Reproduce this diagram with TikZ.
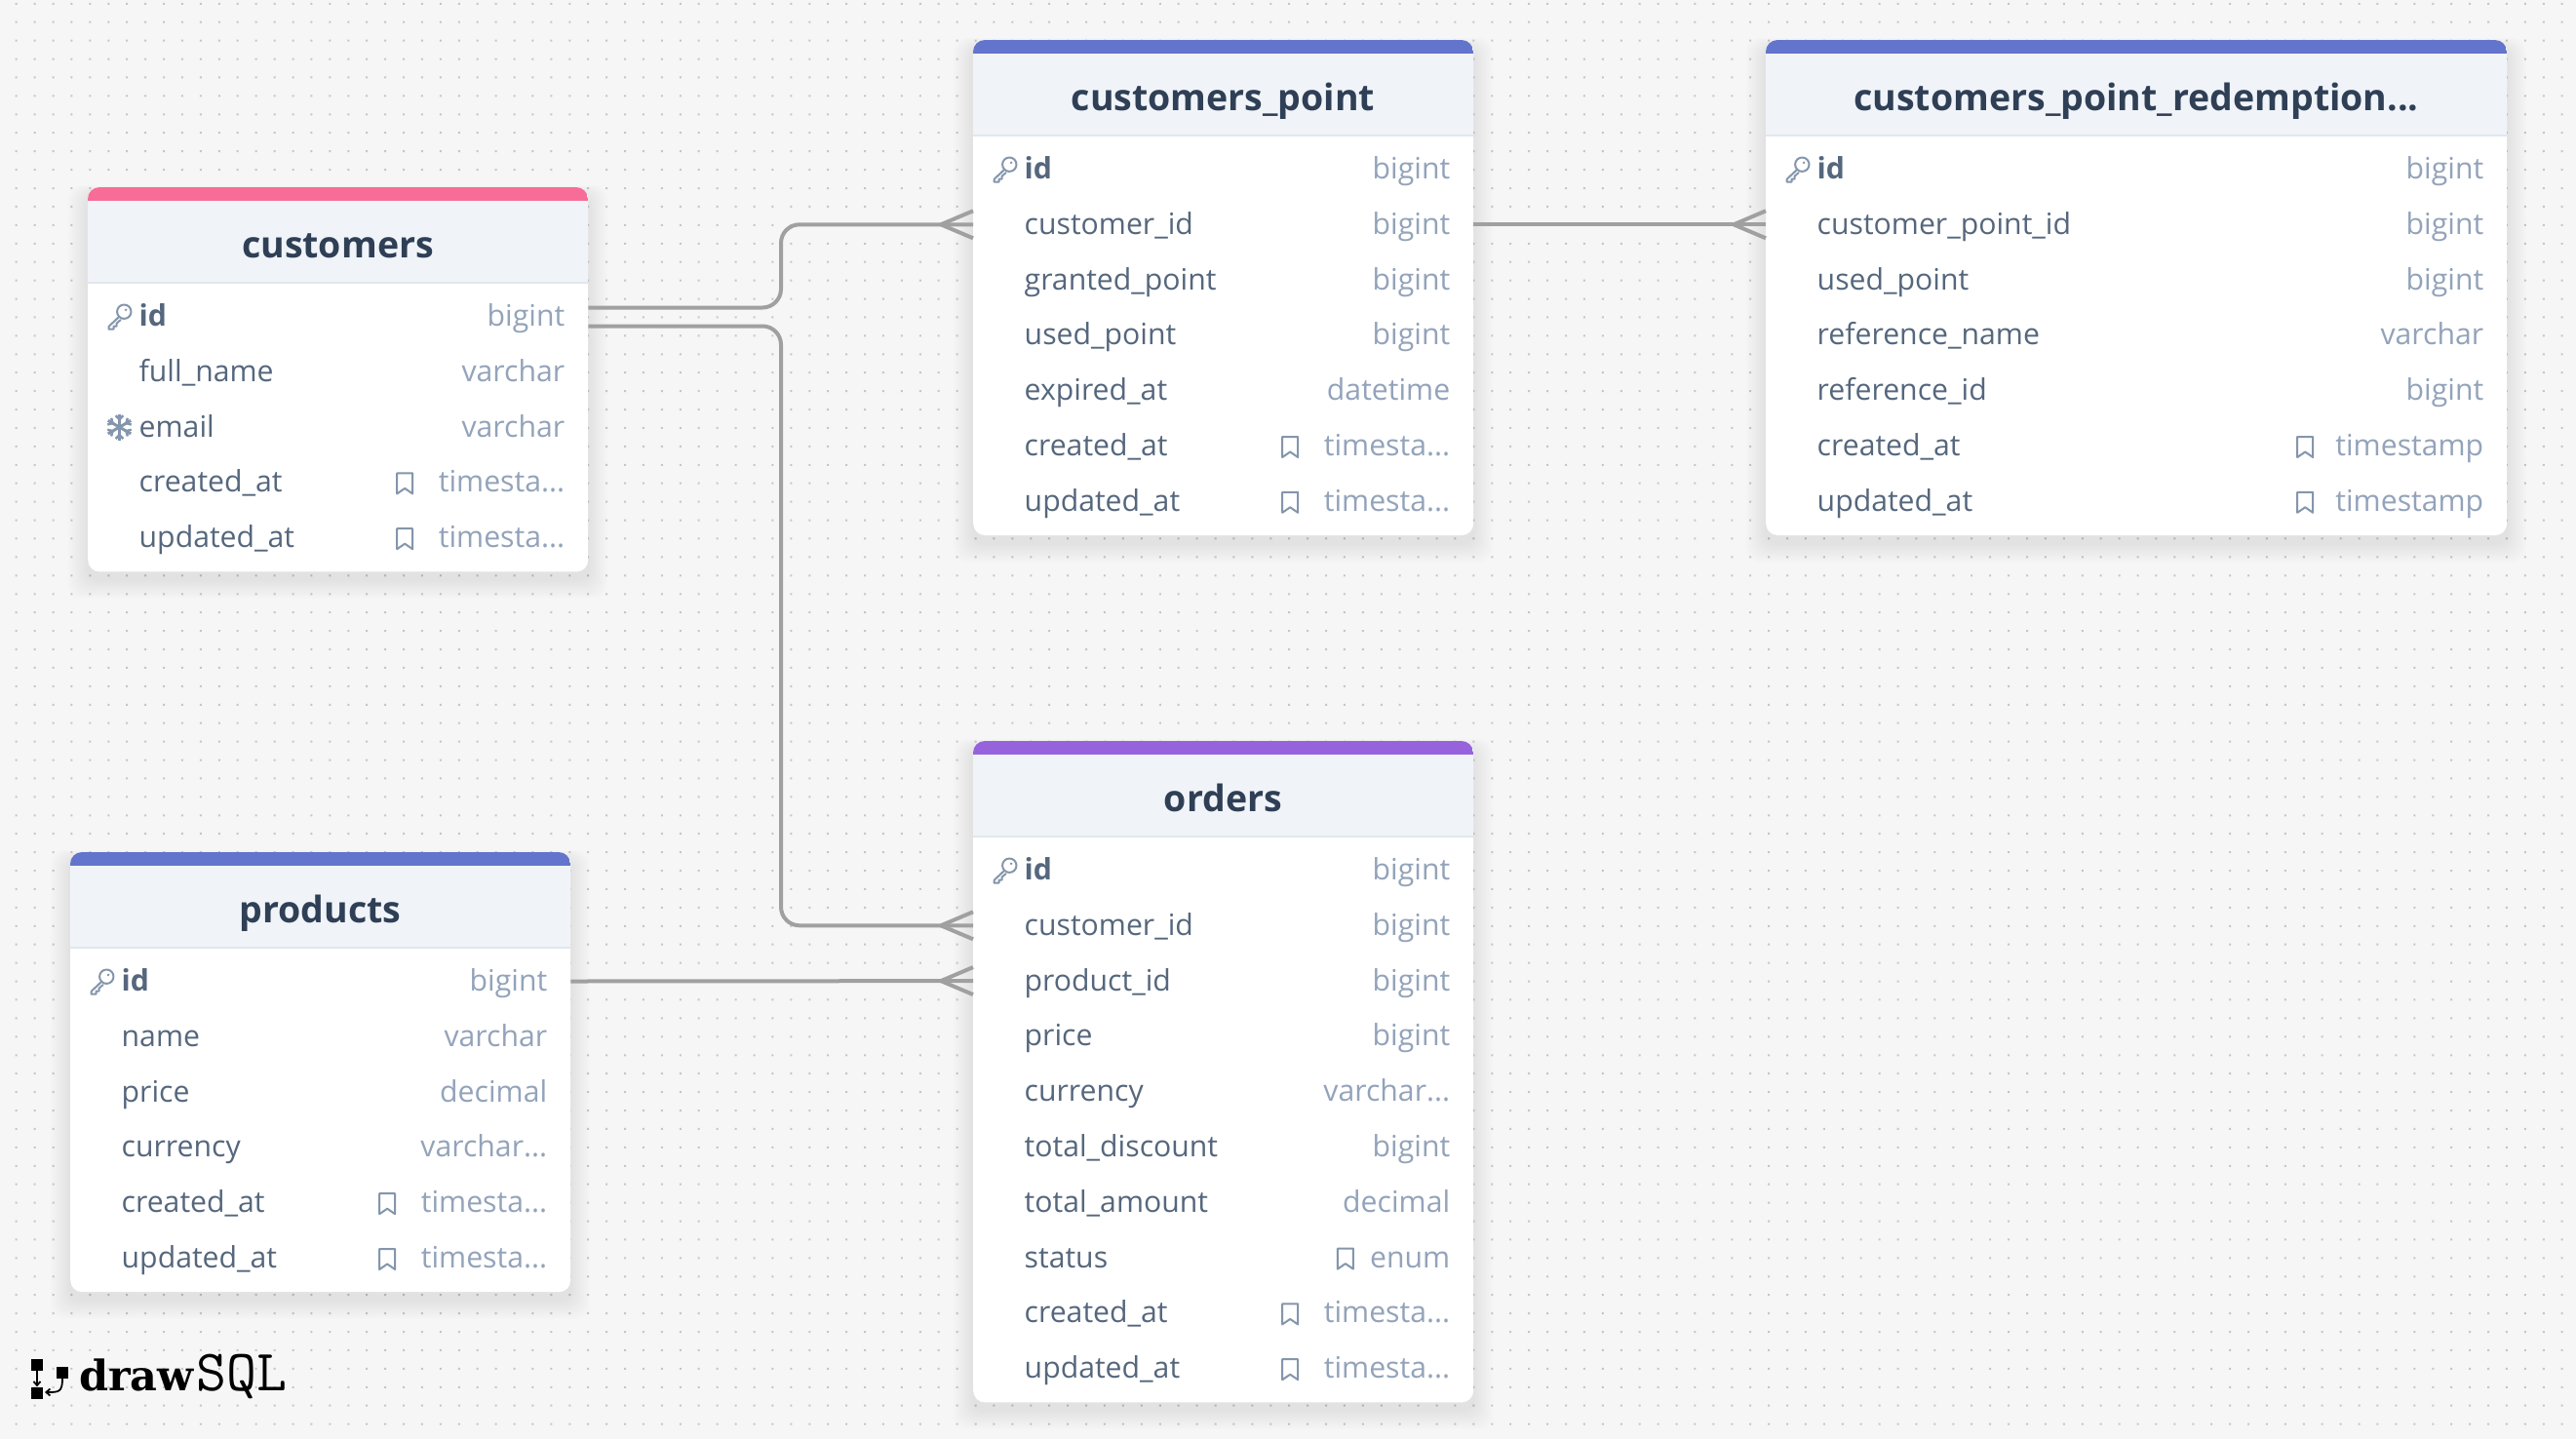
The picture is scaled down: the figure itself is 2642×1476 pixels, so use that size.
\documentclass[tikz,border=0pt]{standalone}
\usepackage{fontspec}
\setmainfont{Open Sans}
\newfontfamily\logobold{DejaVu Serif}[BoldFont={DejaVu Serif Bold}]
\usetikzlibrary{calc,arrows.meta}
\definecolor{bgc}{HTML}{F6F6F6}
\definecolor{dotc}{HTML}{C6C6C6}
\definecolor{headc}{HTML}{F0F4F9}
\definecolor{headl}{HTML}{E0E7EF}
\definecolor{titlec}{HTML}{2F3F55}
\definecolor{namec}{HTML}{55677D}
\definecolor{typec}{HTML}{93A3BA}
\definecolor{iconc}{HTML}{8496AC}
\definecolor{linec}{HTML}{A0A0A0}
\definecolor{pinkc}{HTML}{F76D98}
\definecolor{bluec}{HTML}{6374CC}
\definecolor{purpc}{HTML}{9763DD}
\tikzset{
 x=1pt,y=-1pt,
 conn/.style={draw=linec,line width=4pt},
 tablebody/.style={fill=white,rounded corners=12pt,inner sep=0pt,anchor=north west},
 tabletitle/.style={font=\fontsize{37.5}{37.5}\selectfont\bfseries,text=titlec,anchor=base,inner sep=0pt},
 rowname/.style={font=\fontsize{30.2}{30.2}\selectfont,text=namec,anchor=west,inner sep=0pt,text height=22pt,text depth=2pt},
 rowtype/.style={font=\fontsize{30.2}{30.2}\selectfont,text=typec,anchor=east,inner sep=0pt,text height=22pt,text depth=2pt},
 iconline/.style={draw=iconc,line width=2pt,line join=round,line cap=round},
}
\newcommand\dbtable[7]{%
 \pgfmathsetmacro\tblh{131+56.8*(#5-1)+36}
 \foreach \s in {1,...,10}{
  \fill[black,opacity=0.008,rounded corners=14pt] (#2-\s*2,#3+8-\s*1) rectangle ++(#4+\s*4,\tblh+\s*3);
 }
 \node[tablebody,minimum width=#4pt,minimum height=\tblh pt] (#1) at (#2,#3) {};
 \begin{scope}
  \clip[rounded corners=12pt] (#2,#3) rectangle ++(#4,\tblh);
  \fill[headc] (#2,#3) rectangle ++(#4,97);
  \fill[headl] (#2,#3+97) rectangle ++(#4,2);
  \fill[#6] (#2,#3) rectangle ++(#4,14);
 \end{scope}
 \node[tabletitle] (#1-title) at (#2+#4/2,#3+72) {#7};
}
% table, row id, index, text, type
\newcommand\dbrow[5]{%
 \node[rowname] (#1-#2) at ($(#1.north west)+(52.5,132.5+56.8*#3)$) {#4};
 \node[rowtype] (#1-#2-t) at ($(#1.north east)+(-24,132.5+56.8*#3)$) {#5};
}
\newcommand\keyicon[1]{%
 \begin{scope}[shift={($(#1.west)+(-20,0)$)},scale=1.2]
  \draw[iconline] (4,-4) circle (6);
  \draw[iconline] (-0.5,0.5) -- (-9,8.5) -- (-9,11) -- (-5,11) -- (-5,8.5) -- (-2.5,8.5) -- (-2.5,6) -- (1,3);
  \fill[iconc] (5.5,-5.5) circle (1.2);
 \end{scope}}
\newcommand\flakeicon[1]{%
 \begin{scope}[shift={($(#1.west)+(-20,0)$)}]
  \foreach \a in {30,90,150,210,270,330}{
   \draw[iconc,line width=3pt] (0,0) -- (\a:13.5);
   \draw[iconc,line width=2.4pt] (\a:8) -- ++(\a+45:5.5);
   \draw[iconc,line width=2.4pt] (\a:8) -- ++(\a-45:5.5);
  }
 \end{scope}}
\newcommand\markicon[2][-34.5]{%
 \begin{scope}[shift={($(#2.west)+(#1,1)$)}]
  \draw[iconline] (-8,-10.5) -- (8,-10.5) -- (8,10.5) -- (0,5) -- (-8,10.5) -- cycle;
 \end{scope}}
\newcommand\crowfoot[1]{%
 \draw[conn] ($(#1)+(-33,0)$) -- ($(#1)+(0,-14)$);
 \draw[conn] ($(#1)+(-33,0)$) -- ($(#1)+(0,14)$);
}
\begin{document}
\begin{tikzpicture}
\useasboundingbox (0,0) rectangle (2642,1476);
\fill[bgc] (0,0) rectangle (2642,1476);
\foreach \i in {0,...,139}{
 \fill[dotc] \foreach \j in {0,...,78}{ ({15.7+18.92*\i},{2.8+18.92*\j}) rectangle ++(2,2) };
}
\dbtable{customers}{90}{192}{513}{5}{pinkc}{customers}
\dbrow{customers}{id}{0}{\textbf{id}}{bigint}
\dbrow{customers}{fullname}{1}{full\_name}{varchar}
\dbrow{customers}{email}{2}{email}{varchar}
\dbrow{customers}{created}{3}{created\_at}{timesta...}
\dbrow{customers}{updated}{4}{updated\_at}{timesta...}
\keyicon{customers-id}
\flakeicon{customers-email}
\markicon{customers-created-t}
\markicon{customers-updated-t}
\dbtable{point}{998}{41}{513}{7}{bluec}{customers\_point}
\dbrow{point}{id}{0}{\textbf{id}}{bigint}
\dbrow{point}{customer}{1}{customer\_id}{bigint}
\dbrow{point}{granted}{2}{granted\_point}{bigint}
\dbrow{point}{used}{3}{used\_point}{bigint}
\dbrow{point}{expired}{4}{expired\_at}{datetime}
\dbrow{point}{created}{5}{created\_at}{timesta...}
\dbrow{point}{updated}{6}{updated\_at}{timesta...}
\keyicon{point-id}
\markicon{point-created-t}
\markicon{point-updated-t}
\dbtable{redeem}{1811}{41}{760}{7}{bluec}{customers\_point\_redemption...}
\dbrow{redeem}{id}{0}{\textbf{id}}{bigint}
\dbrow{redeem}{point}{1}{customer\_point\_id}{bigint}
\dbrow{redeem}{used}{2}{used\_point}{bigint}
\dbrow{redeem}{refname}{3}{reference\_name}{varchar}
\dbrow{redeem}{refid}{4}{reference\_id}{bigint}
\dbrow{redeem}{created}{5}{created\_at}{timestamp}
\dbrow{redeem}{updated}{6}{updated\_at}{timestamp}
\keyicon{redeem-id}
\markicon[-31]{redeem-created-t}
\markicon[-31]{redeem-updated-t}
\dbtable{orders}{998}{760}{513}{10}{purpc}{orders}
\dbrow{orders}{id}{0}{\textbf{id}}{bigint}
\dbrow{orders}{customer}{1}{customer\_id}{bigint}
\dbrow{orders}{product}{2}{product\_id}{bigint}
\dbrow{orders}{price}{3}{price}{bigint}
\dbrow{orders}{currency}{4}{currency}{varchar...}
\dbrow{orders}{discount}{5}{total\_discount}{bigint}
\dbrow{orders}{amount}{6}{total\_amount}{decimal}
\dbrow{orders}{status}{7}{status}{enum}
\dbrow{orders}{created}{8}{created\_at}{timesta...}
\dbrow{orders}{updated}{9}{updated\_at}{timesta...}
\keyicon{orders-id}
\markicon[-25]{orders-status-t}
\markicon{orders-created-t}
\markicon{orders-updated-t}
\dbtable{products}{72}{874}{513}{6}{bluec}{products}
\dbrow{products}{id}{0}{\textbf{id}}{bigint}
\dbrow{products}{name}{1}{name}{varchar}
\dbrow{products}{price}{2}{price}{decimal}
\dbrow{products}{currency}{3}{currency}{varchar...}
\dbrow{products}{created}{4}{created\_at}{timesta...}
\dbrow{products}{updated}{5}{updated\_at}{timesta...}
\keyicon{products-id}
\markicon{products-created-t}
\markicon{products-updated-t}
% connectors
\coordinate (custA) at ($(customers.east |- customers-id)+(0,-9)$);
\coordinate (custB) at ($(customers.east |- customers-id)+(0,10)$);
\coordinate (bendx) at (801,0);
\coordinate (pointIn) at (point.west |- point-customer);
\coordinate (pointOut) at (point.east |- point-customer);
\coordinate (redeemIn) at (redeem.west |- redeem-point);
\coordinate (ordCust) at (orders.west |- orders-customer);
\coordinate (ordProd) at (orders.west |- orders-product);
\coordinate (prodOut) at (products.east |- products-id);
\draw[conn,rounded corners=19pt] (custA) -- (bendx |- custA) -- (bendx |- pointIn) -- (pointIn);
\draw[conn,rounded corners=19pt] (custB) -- (bendx |- custB) -- (bendx |- ordCust) -- (ordCust);
\draw[conn] (pointOut) -- (redeemIn);
\draw[conn] (prodOut) -- (ordProd);
\crowfoot{pointIn}
\crowfoot{redeemIn}
\crowfoot{ordCust}
\crowfoot{ordProd}
% logo
\node[fill=black,minimum size=12pt,inner sep=0pt] (lgA) at (38,1400) {};
\node[fill=black,minimum size=12pt,inner sep=0pt] (lgB) at (38,1428.5) {};
\node[fill=black,minimum size=12pt,inner sep=0pt] (lgC) at (64,1408) {};
\draw[line width=1.8pt,-{Straight Barb[length=4pt,width=7pt]}] (lgA) -- (lgB);
\draw[line width=1.8pt,-{Straight Barb[length=4pt,width=7pt]}] (lgC.south) .. controls (64,1428) and (60,1428) .. (46,1428);
\node[anchor=base west,inner sep=0pt,font=\logobold\bfseries\fontsize{43}{43}\selectfont] (lgDraw) at (81,1426) {draw};
\node[anchor=base west,inner sep=0pt,font=\ttfamily\fontsize{60}{60}\selectfont] (lgSQL) at (201,1426) {SQL};
\end{tikzpicture}
\end{document}
